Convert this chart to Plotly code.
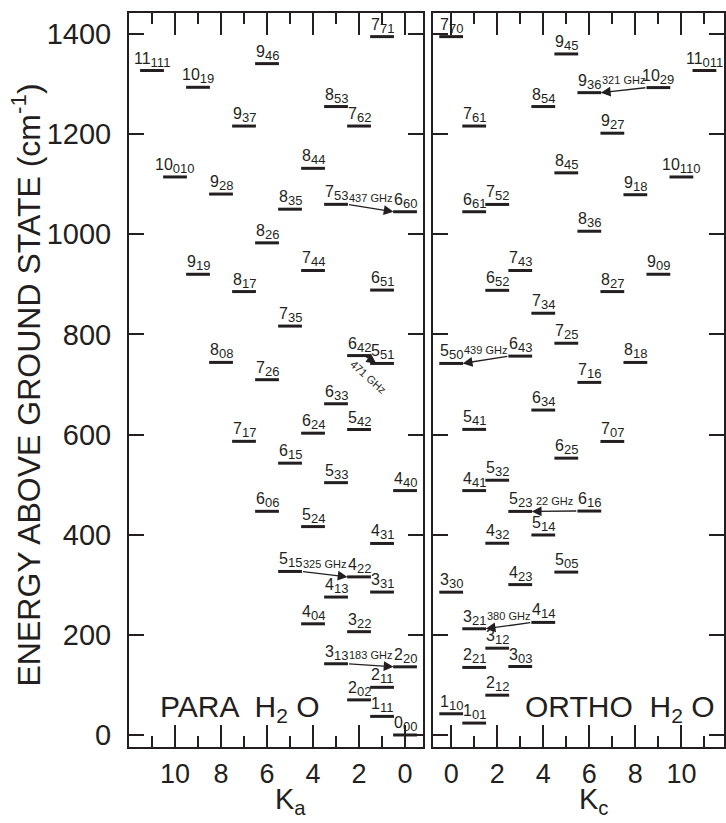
import plotly.graph_objects as go

# ---------------- data: H2O rotational levels (J, Ka, Kc, energy cm^-1) ----------------
para_J  = [0, 1, 2, 2, 2, 3, 3, 3, 4, 4, 4, 4, 4, 5, 5, 5, 5, 5, 6, 6, 6, 6, 6, 6, 6,
           7, 7, 7, 7, 7, 7, 7, 8, 8, 8, 8, 8, 8, 9, 9, 9, 9, 10, 10, 11]
para_Ka = [0, 1, 0, 1, 2, 1, 2, 3, 0, 1, 2, 3, 4, 1, 2, 3, 4, 5, 0, 1, 2, 3, 4, 5, 6,
           1, 2, 3, 4, 5, 6, 7, 0, 1, 2, 3, 4, 5, 1, 2, 3, 4, 0, 1, 1]
para_Kc = [0, 1, 2, 1, 0, 3, 2, 1, 4, 3, 2, 1, 0, 5, 4, 3, 2, 1, 6, 5, 4, 3, 2, 1, 0,
           7, 6, 5, 4, 3, 2, 1, 8, 7, 6, 5, 4, 3, 9, 8, 7, 6, 10, 9, 11]
para_E  = [0.0, 37.14, 70.09, 95.18, 136.16, 142.28, 206.30, 285.42, 222.05, 275.50,
           315.78, 382.52, 488.11, 326.63, 416.21, 503.97, 610.11, 742.07, 446.70,
           542.91, 602.77, 661.55, 757.78, 888.60, 1045.06, 586.48, 709.61, 816.69,
           927.74, 1059.84, 1216.23, 1394.81, 744.16, 885.60, 982.91, 1050.16,
           1131.77, 1255.17, 920.17, 1080.39, 1216.19, 1340.89, 1114.55, 1293.63,
           1327.12]

ortho_J  = [1, 1, 2, 2, 3, 3, 3, 3, 4, 4, 4, 4, 5, 5, 5, 5, 5, 5, 6, 6, 6, 6, 6, 6,
            7, 7, 7, 7, 7, 7, 7, 7, 8, 8, 8, 8, 8, 9, 9, 9, 9, 9, 10, 10, 11]
ortho_Ka = [0, 1, 1, 2, 0, 1, 2, 3, 1, 2, 3, 4, 0, 1, 2, 3, 4, 5, 1, 2, 3, 4, 5, 6,
            0, 1, 2, 3, 4, 5, 6, 7, 1, 2, 3, 4, 5, 0, 1, 2, 3, 4, 1, 2, 0]
ortho_Kc = [1, 0, 2, 1, 3, 2, 1, 0, 4, 3, 2, 1, 5, 4, 3, 2, 1, 0, 6, 5, 4, 3, 2, 1,
            7, 6, 5, 4, 3, 2, 1, 0, 8, 7, 6, 5, 4, 9, 8, 7, 6, 5, 10, 9, 11]
ortho_E  = [23.79, 42.37, 79.50, 134.90, 136.76, 173.37, 212.16, 285.22, 224.84,
            300.36, 382.97, 488.13, 325.35, 399.46, 446.51, 508.81, 610.34, 742.07,
            447.25, 552.91, 648.98, 756.72, 888.08, 1045.06, 586.24, 704.21, 782.41,
            842.36, 927.74, 1059.65, 1216.23, 1394.81, 744.06, 885.60, 1006.12,
            1122.71, 1255.17, 920.21, 1079.08, 1201.92, 1282.92, 1360.24, 1114.50,
            1293.02, 1327.12]

# transitions: (panel, upper level, lower level, label)
trans_panel = ["para", "para", "para", "para", "ortho", "ortho", "ortho", "ortho"]
trans_upper = ["7_53", "6_42", "5_15", "3_13", "10_29", "6_43", "6_16", "4_14"]
trans_lower = ["6_60", "5_51", "4_22", "2_20", "9_36", "5_50", "5_23", "3_21"]
trans_label = ["437 GHz", "471 GHz", "325 GHz", "183 GHz",
               "321 GHz", "439 GHz", "22 GHz", "380 GHz"]

y_ticks = [0, 200, 400, 600, 800, 1000, 1200, 1400]
ka_ticks = [0, 2, 4, 6, 8, 10]
kc_ticks = [0, 2, 4, 6, 8, 10]

INK = "#231f20"
FONT = "Liberation Sans, Arial, Helvetica, sans-serif"

def key(J, Ka, Kc):
    return f"{J}_{Ka}{Kc}"

levels = {"para": {}, "ortho": {}}
for J, a, c, E in zip(para_J, para_Ka, para_Kc, para_E):
    levels["para"][key(J, a, c)] = (c, E)
for J, a, c, E in zip(ortho_J, ortho_Ka, ortho_Kc, ortho_E):
    levels["ortho"][key(J, a, c)] = (c, E)

fig = go.Figure()

bar_marker = dict(symbol="line-ew", size=17, line=dict(width=3, color=INK), color=INK)
fig.add_trace(go.Scatter(x=para_Kc, y=para_E, mode="markers", marker=bar_marker,
                         xaxis="x", yaxis="y", hoverinfo="skip", showlegend=False))
fig.add_trace(go.Scatter(x=ortho_Kc, y=ortho_E, mode="markers", marker=bar_marker,
                         xaxis="x2", yaxis="y2", hoverinfo="skip", showlegend=False))

annotations = []
for panel, Js, As, Cs, Es, xr, yr in [
        ("para", para_J, para_Ka, para_Kc, para_E, "x", "y"),
        ("ortho", ortho_J, ortho_Ka, ortho_Kc, ortho_E, "x2", "y2")]:
    for J, a, c, E in zip(Js, As, Cs, Es):
        annotations.append(dict(
            x=c, y=E, xref=xr, yref=yr, showarrow=False,
            text=f"{J}<sub><span style='font-size:13px'>{a}{c}</span></sub>",
            xanchor="center", yanchor="bottom",
            yshift=-1, font=dict(size=16, color=INK, family=FONT)))

for panel, up, lo, lab in zip(trans_panel, trans_upper, trans_lower, trans_label):
    xr, yr = ("x", "y") if panel == "para" else ("x2", "y2")
    xu, Eu = levels[panel][up]
    xl, El = levels[panel][lo]
    s = 1 if xl > xu else -1
    g = min(0.5, abs(xl - xu) * 0.25)
    tx, hx = xu + s * g, xl - s * g
    annotations.append(dict(
        x=hx, y=El, ax=tx, ay=Eu, xref=xr, yref=yr, axref=xr, ayref=yr,
        showarrow=True, arrowhead=2, arrowsize=1.4, arrowwidth=1.4,
        arrowcolor=INK, standoff=0, startstandoff=0, text=""))
    short = abs(xl - xu) < 1.5
    annotations.append(dict(
        x=(tx + hx) / 2, y=(Eu + El) / 2, xref=xr, yref=yr, showarrow=False,
        text=lab, textangle=42 if short else 0,
        yshift=-17 if short else 10, xshift=-2 if short else 0,
        font=dict(size=11, color=INK, family=FONT)))

# panel titles
annotations.append(dict(x=0.186, y=0.053, xref="paper", yref="paper", showarrow=False,
                        text="PARA  H<sub>2</sub> O", xanchor="center", yanchor="middle",
                        font=dict(size=30, color=INK, family=FONT)))
annotations.append(dict(x=0.824, y=0.053, xref="paper", yref="paper", showarrow=False,
                        text="ORTHO  H<sub>2</sub> O", xanchor="center", yanchor="middle",
                        font=dict(size=30, color=INK, family=FONT)))
# axis titles
annotations.append(dict(x=0.2714, y=-0.074, xref="paper", yref="paper", showarrow=False,
                        text="K<sub>a</sub>", xanchor="center", yanchor="middle",
                        font=dict(size=29, color=INK, family=FONT)))
annotations.append(dict(x=0.7806, y=-0.074, xref="paper", yref="paper", showarrow=False,
                        text="K<sub>c</sub>", xanchor="center", yanchor="middle",
                        font=dict(size=29, color=INK, family=FONT)))
annotations.append(dict(x=-0.1725, y=0.493, xref="paper", yref="paper", showarrow=False,
                        text="ENERGY ABOVE GROUND STATE (cm<sup>-1</sup>)",
                        textangle=-90, xanchor="center", yanchor="middle",
                        font=dict(size=32, color=INK, family=FONT)))

xcommon = dict(showgrid=False, zeroline=False, showline=True, linewidth=2, linecolor=INK,
               ticks="inside", ticklen=22, tickwidth=1.5, tickcolor=INK, mirror="ticks",
               tickfont=dict(size=27, color=INK, family=FONT), ticklabelstandoff=2)
ycommon = dict(showgrid=False, zeroline=False, showline=True, linewidth=2, linecolor=INK,
               ticks="inside", ticklen=15, tickwidth=1.5, tickcolor=INK, mirror="ticks",
               range=[-24, 1442], tickvals=y_ticks)

fig.update_layout(
    width=726, height=823, margin=dict(l=129, r=0, t=13, b=76),
    paper_bgcolor="white", plot_bgcolor="white", showlegend=False,
    xaxis=dict(domain=[0, 0.4941], range=[12, -0.78], tickvals=ka_ticks,
               minor=dict(tickvals=[1, 3, 5, 7, 9, 11], ticklen=11, ticks="inside",
                          tickwidth=1.5, tickcolor=INK),
               anchor="y", **xcommon),
    xaxis2=dict(domain=[0.5109, 1.0], range=[-0.79, 11.85], tickvals=kc_ticks,
                minor=dict(tickvals=[1, 3, 5, 7, 9, 11], ticklen=11, ticks="inside",
                           tickwidth=1.5, tickcolor=INK),
                anchor="y2", **xcommon),
    yaxis=dict(anchor="x", tickfont=dict(size=29, color=INK, family=FONT),
               ticklabelstandoff=10, **ycommon),
    yaxis2=dict(anchor="x2", matches="y", showticklabels=False, **ycommon),
    annotations=annotations,
)

fig.write_html("out.html")
